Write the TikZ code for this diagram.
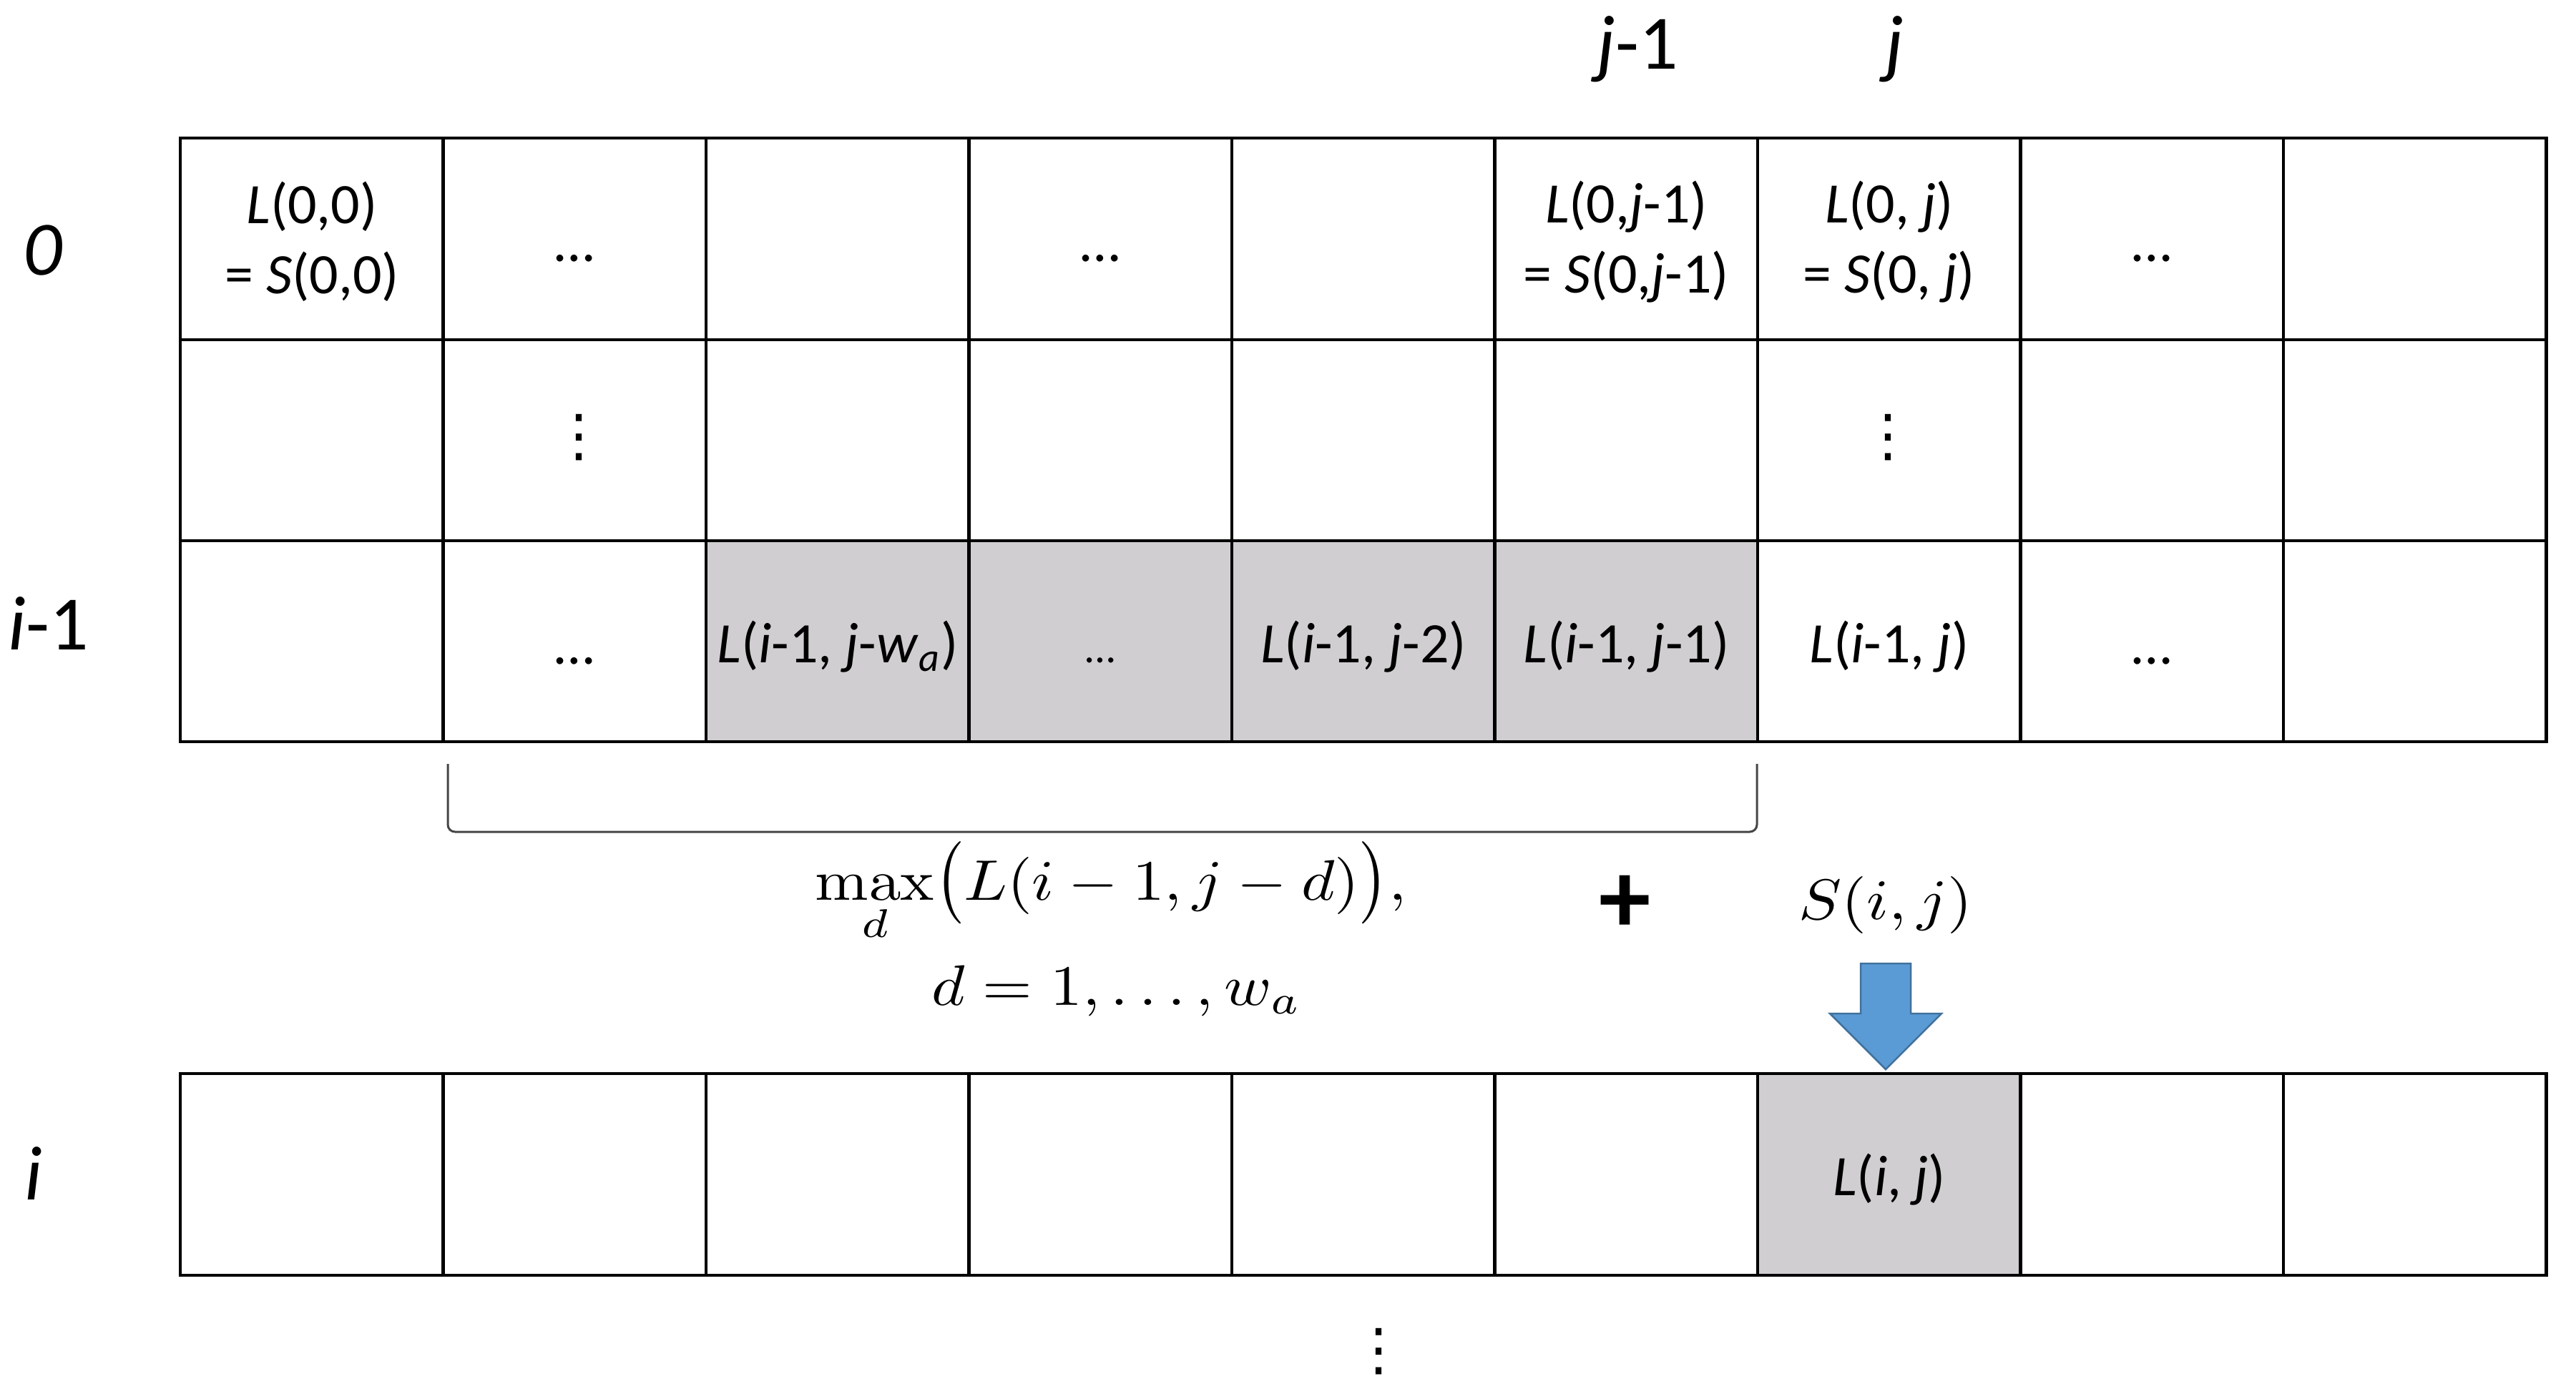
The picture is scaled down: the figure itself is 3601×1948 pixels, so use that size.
\documentclass[tikz,border=0pt]{standalone}
\usepackage[no-math]{fontspec}
\usepackage{graphicx}
\setmainfont{Carlito}
\newfontfamily\dvs{DejaVu Sans}
\definecolor{cellgrey}{RGB}{208,206,208}
\definecolor{arrowblue}{RGB}{91,155,213}
\definecolor{arrowedge}{RGB}{65,113,156}
\definecolor{bracketgrey}{RGB}{70,70,70}
\tikzset{
  cell/.style={draw=black, line width=0.85pt, minimum width=73.5pt, minimum height=56.3pt, inner sep=0pt, outer sep=0pt},
  celltext/.style={inner sep=0pt, font=\fontsize{16}{19.6}\selectfont, align=center},
  smalldots/.style={inner sep=0pt, font=\fontsize{12}{14}\selectfont},
  vdotstext/.style={inner sep=0pt, font=\dvs\fontsize{16}{18}\selectfont},
  axlabel/.style={anchor=base, inner sep=0pt, font=\fontsize{21.5}{24}\selectfont},
  mathlabel/.style={anchor=base, inner sep=0pt, font=\normalsize},
  plustext/.style={inner sep=0pt, font=\fontsize{29}{32}\selectfont\bfseries},
  bracketline/.style={draw=bracketgrey, line width=0.6pt, rounded corners=2pt},
  blockarrow/.style={fill=arrowblue, draw=arrowedge, line width=0.5pt},
}
\newcommand{\fmla}[1]{\scalebox{1.79}[1.6]{#1}}
\newcommand{\lbig}{\mathopen{\scalebox{1}[1.2]{$\bigl($}}}
\newcommand{\rbig}{\mathclose{\scalebox{1}[1.2]{$\bigr)$}}}
\begin{document}
\begin{tikzpicture}[x=0.2pt,y=-0.2pt]
\useasboundingbox (0,0) rectangle (3601,1948);
% top grid rows 1 and 2
\foreach \r/\y in {1/334,2/615.5}{
  \foreach \c in {1,...,9}{
    \node[cell] (r\r c\c) at ({252+(\c-0.5)*367.5},\y) {};
  }
}
% row 3 (i-1)
\foreach \c/\f in {1/white,2/white,3/cellgrey,4/cellgrey,5/cellgrey,6/cellgrey,7/white,8/white,9/white}{
  \node[cell,fill=\f] (r3c\c) at ({252+(\c-0.5)*367.5},896.5) {};
}
% bottom row (i)
\foreach \c/\f in {1/white,2/white,3/white,4/white,5/white,6/white,7/cellgrey,8/white,9/white}{
  \node[cell,fill=\f] (r4c\c) at ({252+(\c-0.5)*367.5},1642) {};
}
% column labels
\node[axlabel] (colj1) at (2289,96) {\textit{j}-1};
\node[axlabel] (colj) at (2648,96) {\textit{j}};
% row labels
\node[axlabel] (row0) at (60,384) {\textit{0}};
\node[axlabel] (rowi1) at (68,908) {\textit{i}-1};
\node[axlabel] (rowi) at (47,1677) {\textit{i}};
% row 1 texts
\node[celltext] (t11) at (436,338) {\textit{L}(0,0)\\= \textit{S}(0,0)};
\node[celltext,anchor=base] (t12) at (803,365) {…};
\node[celltext,anchor=base] (t14) at (1538,365) {…};
\node[celltext] (t16) at (2273.5,338) {\textit{L}(0,\textit{j}-1)\\= \textit{S}(0,\textit{j}-1)};
\node[celltext] (t17) at (2641,338) {\textit{L}(0, \textit{j})\\= \textit{S}(0, \textit{j})};
\node[celltext,anchor=base] (t18) at (3008,365) {…};
% row 2 vertical dots
\node[vdotstext] (t22) at (809,612) {⋮};
\node[vdotstext] (t27) at (2639,612) {⋮};
% row 3 texts
\node[celltext,anchor=base] (t32) at (803,928) {…};
\node[celltext,anchor=base] (t33) at (1171,926) {\textit{L}(\textit{i}-1, \textit{j}-\textit{w}\textsubscript{\textit{a}})};
\node[smalldots,anchor=base] (t34) at (1538,926) {…};
\node[celltext,anchor=base] (t35) at (1906,926) {\textit{L}(\textit{i}-1, \textit{j}-2)};
\node[celltext,anchor=base] (t36) at (2273.5,926) {\textit{L}(\textit{i}-1, \textit{j}-1)};
\node[celltext,anchor=base] (t37) at (2641,926) {\textit{L}(\textit{i}-1, \textit{j})};
\node[celltext,anchor=base] (t38) at (3008,928) {…};
% bottom row text
\node[celltext,anchor=base] (t47) at (2641,1671) {\textit{L}(\textit{i}, \textit{j})};
% bracket
\coordinate (brA) at (626,1068);
\coordinate (brB) at (626,1163);
\coordinate (brC) at (2456,1163);
\coordinate (brD) at (2456,1068);
\draw[bracketline] (brA) -- (brB) -- (brC) -- (brD);
% formula
\node[mathlabel] (maxf) at (1553,1258) {\fmla{$\displaystyle\max_{d}\lbig L(i-1,j-d)\rbig,$}};
\node[mathlabel] (drange) at (1561,1405) {\fmla{$d=1,\ldots,w_a$}};
\node[plustext] (plus) at (2272,1264) {+};
\node[mathlabel] (sij) at (2636,1285) {\fmla{$S(i,j)$}};
% block arrow
\draw[blockarrow] (2601,1347) -- (2671,1347) -- (2671,1417) -- (2714,1417) -- (2636,1495) -- (2558,1417) -- (2601,1417) -- cycle;
% bottom vertical dots
\node[vdotstext] (tbot) at (1927,1890) {⋮};
\end{tikzpicture}
\end{document}
